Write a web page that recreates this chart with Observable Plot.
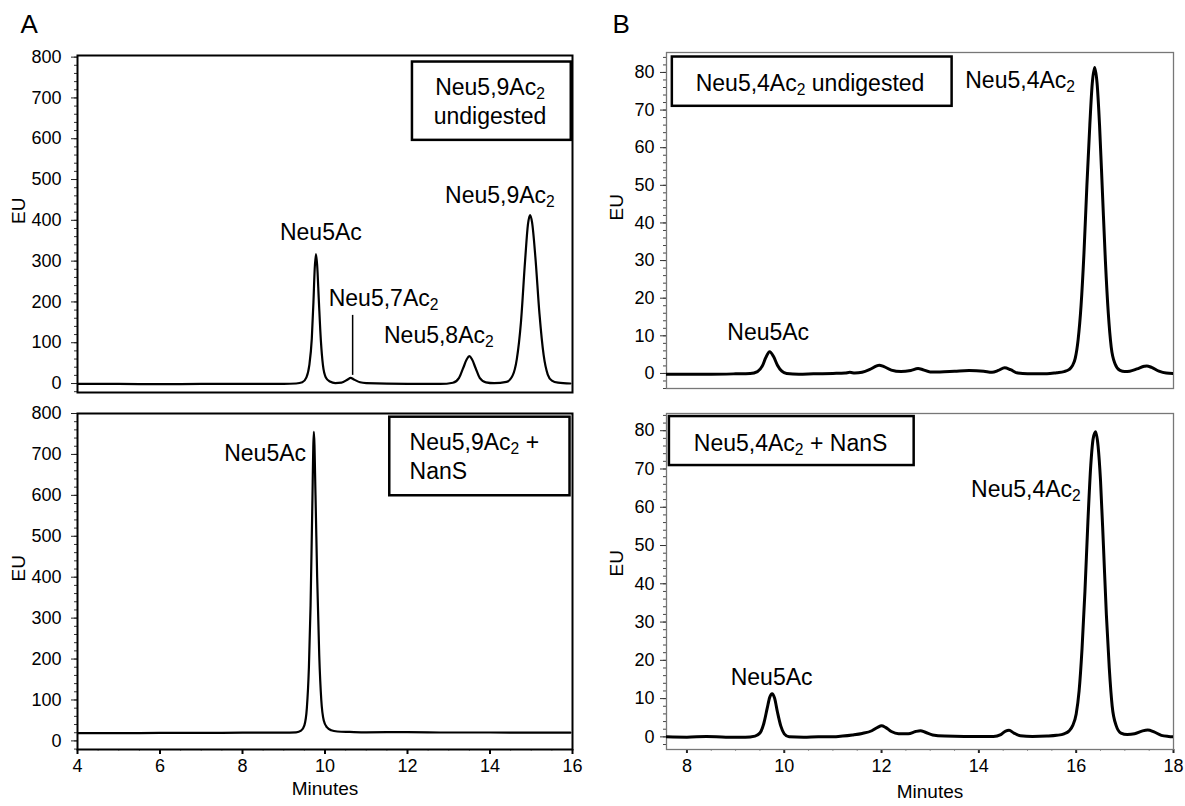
<!DOCTYPE html>
<html>
<head>
<meta charset="utf-8">
<script src="https://cdn.jsdelivr.net/npm/d3@7"></script>
<script src="https://cdn.jsdelivr.net/npm/@observablehq/plot@0.6"></script>
<style>
  body { margin: 0; background: #fff; }
  #chart { position: relative; width: 1185px; height: 806px; overflow: hidden; background: #fff; }
  #chart svg { position: absolute; max-width: none; }
</style>
</head>
<body>
<div id="chart"></div>
<script>
// ---------------- DATA ----------------
// Panel A (top): Neu5,9Ac2 undigested — [minutes, EU]
const traceA_undigested = [
  [4.0,-1],[5.0,-1],[6.0,-1.5],[7.0,-1],[8.0,-1],[9.0,-1],[9.3,0],[9.45,3],[9.55,15],[9.62,45],
  [9.68,110],[9.72,200],[9.75,280],[9.78,317],[9.81,290],[9.85,205],[9.9,105],[9.95,45],[10.02,15],
  [10.12,5],[10.25,1],[10.4,2],[10.55,10],[10.62,14],[10.7,10],[10.85,3],[11.0,1],[12.0,-1],[12.8,-1],
  [13.1,2],[13.25,14],[13.35,38],[13.44,60],[13.5,67],[13.56,60],[13.65,38],[13.75,14],[13.9,3],
  [14.1,1],[14.4,4],[14.55,20],[14.65,60],[14.75,150],[14.85,300],[14.92,390],[14.97,413],[15.02,395],
  [15.1,310],[15.2,170],[15.3,70],[15.4,22],[15.5,7],[15.65,2],[15.95,0]
];
// Panel A (bottom): Neu5,9Ac2 + NanS
const traceA_nans = [
  [4.0,19],[5.0,19],[6.0,19.5],[7.0,19.5],[8.0,20],[9.0,20],[9.3,21],[9.42,25],[9.5,38],[9.56,80],
  [9.61,180],[9.65,330],[9.69,560],[9.73,755],[9.77,600],[9.81,400],[9.86,210],[9.91,100],[9.97,50],
  [10.05,33],[10.15,26],[10.3,23],[10.6,22],[11.0,21],[12.0,21.5],[13.0,20.5],[14.0,20.5],[15.0,20],[15.95,20]
];
// Panel B (top): Neu5,4Ac2 undigested
const traceB_undigested = [
  [7.58,-0.2],[8.0,-0.2],[8.5,-0.2],[9.0,-0.1],[9.3,0],[9.45,0.5],[9.55,2],[9.62,4.2],[9.7,5.8],[9.78,4.5],
  [9.86,2.2],[9.95,0.6],[10.05,0],[10.3,-0.2],[10.6,-0.1],[11.0,0],[11.25,0.1],[11.35,0.3],[11.45,0.1],
  [11.6,0.3],[11.75,1.0],[11.9,2.0],[11.95,2.2],[12.05,1.8],[12.2,0.9],[12.4,0.5],[12.6,0.8],[12.75,1.3],
  [12.85,1.0],[13.0,0.4],[13.2,0.4],[13.5,0.6],[13.8,0.8],[14.1,0.6],[14.27,0.3],[14.4,0.8],[14.53,1.5],
  [14.65,1.0],[14.8,0.1],[15.0,-0.1],[15.4,-0.1],[15.6,0.2],[15.75,0.5],[15.85,1.0],[15.92,2],[15.98,4],
  [16.04,9],[16.1,18],[16.16,32],[16.22,50],[16.28,66],[16.33,77],[16.38,81.3],[16.43,77],[16.48,66],
  [16.54,48],[16.6,30],[16.66,16],[16.72,7],[16.8,2.5],[16.9,0.8],[17.0,0.5],[17.1,0.6],[17.25,1.2],
  [17.4,1.9],[17.45,2.0],[17.55,1.6],[17.7,0.6],[17.85,0.1],[18.0,0]
];
// Panel B (bottom): Neu5,4Ac2 + NanS
const traceB_nans = [
  [7.58,0],[8.0,-0.1],[8.4,0.1],[8.8,-0.1],[9.2,-0.1],[9.4,0.2],[9.5,1],[9.58,3.5],[9.65,7.5],[9.7,10.3],
  [9.75,11.3],[9.8,10.2],[9.86,6.5],[9.93,2.8],[10.0,0.8],[10.1,0],[10.4,-0.1],[10.7,0],[11.0,0],[11.2,0.2],
  [11.4,0.5],[11.6,0.9],[11.8,1.6],[11.92,2.5],[12.0,2.9],[12.08,2.5],[12.2,1.4],[12.35,0.8],[12.55,0.8],
  [12.7,1.4],[12.8,1.6],[12.9,1.2],[13.05,0.5],[13.3,0.2],[13.7,0.1],[14.0,0.1],[14.3,0.1],[14.45,0.6],
  [14.55,1.5],[14.62,1.7],[14.72,1.0],[14.85,0.3],[15.1,0.1],[15.4,0.2],[15.6,0.4],[15.75,0.8],[15.85,1.5],
  [15.93,3],[16.0,6],[16.06,12],[16.12,23],[16.18,38],[16.24,56],[16.3,71],[16.35,78],[16.4,79.7],[16.45,76],
  [16.5,67],[16.56,50],[16.62,32],[16.68,18],[16.74,8],[16.82,3],[16.92,1],[17.05,0.6],[17.2,0.8],[17.35,1.5],
  [17.47,1.8],[17.6,1.3],[17.75,0.4],[17.9,0.1],[18.0,0]
];

// Tick values / labels
const yTicksA = [0, 100, 200, 300, 400, 500, 600, 700, 800];
const xTicksA = [4, 6, 8, 10, 12, 14, 16];
const yTicksB = [0, 10, 20, 30, 40, 50, 60, 70, 80];
const xTicksB = [8, 10, 12, 14, 16, 18];

// Annotation texts (anchored in data units: minutes, EU)
const peakLabelsA1 = [
  {text: "Neu5Ac", t: 9.9, v: 352, anchor: "middle"},
  {text: "Neu5,7Ac_2", t: 10.09, v: 189, anchor: "start"},
  {text: "Neu5,8Ac_2", t: 11.43, v: 99, anchor: "start"},
  {text: "Neu5,9Ac_2", t: 12.91, v: 442, anchor: "start"}
];
const markerA1 = [{t: 10.67, v1: 20, v2: 167}];
const boxA1 = [{x1: 12.12, x2: 15.97, y1: 596, y2: 788}];
const boxTextA1 = [{text: "Neu5,9Ac_2\nundigested", t: 14.0, v: 636}];

const peakLabelsA2 = [{text: "Neu5Ac", t: 9.54, v: 684, anchor: "end"}];
const boxA2 = [{x1: 11.57, x2: 15.94, y1: 599, y2: 791}];
const boxTextA2 = [{text: "Neu5,9Ac_2 +\nNanS", t: 12.05, v: 640}];

const peakLabelsB1 = [
  {text: "Neu5Ac", t: 9.67, v: 8.95, anchor: "middle"},
  {text: "Neu5,4Ac_2", t: 13.72, v: 75.9, anchor: "start"}
];
const boxB1 = [{x1: 7.70, x2: 13.45, y1: 71.0, y2: 84.1}];
const boxTextB1 = [{text: "Neu5,4Ac_2 undigested", t: 10.53, v: 75.2}];

const peakLabelsB2 = [
  {text: "Neu5Ac", t: 9.74, v: 13.5, anchor: "middle"},
  {text: "Neu5,4Ac_2", t: 13.84, v: 62.6, anchor: "start"}
];
const boxB2 = [{x1: 7.64, x2: 12.67, y1: 70.9, y2: 83.7}];
const boxTextB2 = [{text: "Neu5,4Ac_2 + NanS", t: 10.13, v: 74.8}];

// ---------------- RENDER ----------------
const FONT = "'Liberation Sans', Arial, Helvetica, sans-serif";
const LABEL = 23;   // annotation font size
const TICK = 18;    // tick label font size
const TITLE = 19;   // axis titles
const chart = document.getElementById("chart");

function inDomain(vals, dom) { return vals.filter(v => v >= dom[0] - 1e-9 && v <= dom[1] + 1e-9); }

// Turn "_2" into a real subscript tspan (baseline-shift does not move following text)
function subscripts(svg) {
  const ns = "http://www.w3.org/2000/svg";
  svg.querySelectorAll("text").forEach(t => {
    const walker = document.createTreeWalker(t, NodeFilter.SHOW_TEXT);
    const nodes = [];
    while (walker.nextNode()) nodes.push(walker.currentNode);
    nodes.forEach(n => {
      if (!/_\d/.test(n.nodeValue)) return;
      const parts = n.nodeValue.split(/_(\d)/);
      const frag = document.createDocumentFragment();
      parts.forEach((p, i) => {
        if (i % 2 === 1) {
          const s = document.createElementNS(ns, "tspan");
          s.setAttribute("font-size", "68%");
          s.setAttribute("baseline-shift", "-4px");
          s.style.baselineShift = "-4px";
          s.textContent = p;
          frag.appendChild(s);
        } else if (p) {
          frag.appendChild(document.createTextNode(p));
        }
      });
      n.parentNode.replaceChild(frag, n);
    });
  });
}

function labelMarks(labels) {
  return labels.map(l => Plot.text([l], {x: "t", y: "v", text: "text", textAnchor: l.anchor,
    lineAnchor: "bottom", fontSize: LABEL, fill: "black"}));
}

function place(svg, left, top) {
  svg.style.left = left + "px";
  svg.style.top = top + "px";
  subscripts(svg);
  chart.appendChild(svg);
}

const style = {fontFamily: FONT, fontSize: TICK + "px", color: "black", background: "transparent", overflow: "visible"};

// ---- Panel A top ----
{
  const xd = [4, 16], yd = [-22, 804];
  const svg = Plot.plot({
    width: 600, height: 400, marginLeft: 77, marginRight: 28, marginTop: 55, marginBottom: 8,
    style,
    x: {domain: xd, axis: null, label: null},
    y: {domain: yd, label: null},
    marks: [
      Plot.axisY(inDomain(d3.range(-20, 801, 20), yd), {tickSize: 3, tickFormat: () => "", label: null, stroke: "#333"}),
      Plot.axisY(yTicksA, {tickSize: 6, tickPadding: 10, fontSize: TICK, label: null, stroke: "#222"}),
      Plot.rect(boxA1, {x1: "x1", x2: "x2", y1: "y1", y2: "y2", fill: "white", stroke: "black", strokeWidth: 2.5}),
      Plot.text(boxTextA1, {x: "t", y: "v", text: "text", textAnchor: "middle", lineAnchor: "bottom", lineHeight: 1.25, fontSize: LABEL}),
      Plot.line(traceA_undigested, {x: d => d[0], y: d => d[1], curve: "monotone-x", stroke: "black", strokeWidth: 2.2, clip: true}),
      Plot.ruleX(markerA1, {x: "t", y1: "v1", y2: "v2", stroke: "black", strokeWidth: 1.5}),
      ...labelMarks(peakLabelsA1),
      Plot.frame({stroke: "black", strokeWidth: 2}),
      Plot.text(["EU"], {frameAnchor: "left", dx: -59, rotate: -90, fontSize: TITLE}),
      Plot.text(["A"], {frameAnchor: "top-left", dx: -57, dy: -23, lineAnchor: "bottom", textAnchor: "start", fontSize: 26})
    ]
  });
  place(svg, 0, 0);
}

// ---- Panel A bottom ----
{
  const xd = [4, 16], yd = [-21, 800];
  const svg = Plot.plot({
    width: 600, height: 406, marginLeft: 77, marginRight: 28, marginTop: 13, marginBottom: 57,
    style,
    x: {domain: xd, label: null},
    y: {domain: yd, label: null},
    marks: [
      Plot.axisY(inDomain(d3.range(-20, 801, 20), yd), {tickSize: 3, tickFormat: () => "", label: null, stroke: "#333"}),
      Plot.axisY(yTicksA, {tickSize: 6, tickPadding: 10, fontSize: TICK, label: null, stroke: "#222"}),
      Plot.axisX(inDomain(d3.range(4, 16.01, 0.5), xd), {tickSize: 2, tickFormat: () => "", label: null, stroke: "#999"}),
      Plot.axisX(xTicksA, {tickSize: 5, tickPadding: 5, fontSize: TICK, strokeWidth: 2, label: null, stroke: "black"}),
      Plot.rect(boxA2, {x1: "x1", x2: "x2", y1: "y1", y2: "y2", fill: "white", stroke: "black", strokeWidth: 2.5}),
      Plot.text(boxTextA2, {x: "t", y: "v", text: "text", textAnchor: "start", lineAnchor: "bottom", lineHeight: 1.25, fontSize: LABEL}),
      Plot.line(traceA_nans, {x: d => d[0], y: d => d[1], curve: "monotone-x", stroke: "black", strokeWidth: 2.2, clip: true}),
      ...labelMarks(peakLabelsA2),
      Plot.frame({stroke: "black", strokeWidth: 2}),
      Plot.text(["EU"], {frameAnchor: "left", dx: -59, rotate: -90, fontSize: TITLE}),
      Plot.text(["Minutes"], {frameAnchor: "bottom", dy: 45, lineAnchor: "bottom", fontSize: TITLE})
    ]
  });
  place(svg, 0, 400);
}

// ---- Panel B top ----
{
  const xd = [7.58, 18.0], yd = [-4, 85.3];
  const svg = Plot.plot({
    width: 585, height: 400, marginLeft: 66, marginRight: 12, marginTop: 52, marginBottom: 12,
    style,
    x: {domain: xd, axis: null, label: null},
    y: {domain: yd, label: null},
    marks: [
      Plot.axisY(inDomain(d3.range(-4, 85, 2), yd), {tickSize: 3, tickFormat: () => "", label: null, stroke: "#444"}),
      Plot.axisY(yTicksB, {tickSize: 6, tickPadding: 6, fontSize: TICK, label: null, stroke: "#333"}),
      Plot.frame({stroke: "#777", strokeWidth: 1.3}),
      Plot.rect(boxB1, {x1: "x1", x2: "x2", y1: "y1", y2: "y2", fill: "white", stroke: "black", strokeWidth: 2.5}),
      Plot.text(boxTextB1, {x: "t", y: "v", text: "text", textAnchor: "middle", lineAnchor: "bottom", fontSize: LABEL}),
      Plot.line(traceB_undigested, {x: d => d[0], y: d => d[1], curve: "monotone-x", stroke: "black", strokeWidth: 3, clip: true}),
      ...labelMarks(peakLabelsB1),
      Plot.text(["EU"], {frameAnchor: "left", dx: -50, rotate: -90, fontSize: TITLE}),
      Plot.text(["B"], {frameAnchor: "top-left", dx: -54, dy: -20, lineAnchor: "bottom", textAnchor: "start", fontSize: 26})
    ]
  });
  place(svg, 600, 0);
}

// ---- Panel B bottom ----
{
  const xd = [7.58, 18.0], yd = [-3.3, 84.5];
  const svg = Plot.plot({
    width: 585, height: 406, marginLeft: 66, marginRight: 12, marginTop: 13, marginBottom: 57,
    style,
    x: {domain: xd, label: null},
    y: {domain: yd, label: null},
    marks: [
      Plot.axisY(inDomain(d3.range(-2, 85, 2), yd), {tickSize: 3, tickFormat: () => "", label: null, stroke: "#444"}),
      Plot.axisY(yTicksB, {tickSize: 6, tickPadding: 6, fontSize: TICK, label: null, stroke: "#333"}),
      Plot.axisX(inDomain(d3.range(8, 18.01, 0.5), xd), {tickSize: 2, tickFormat: () => "", label: null, stroke: "#999"}),
      Plot.axisX(xTicksB, {tickSize: 4, tickPadding: 6, fontSize: TICK, strokeWidth: 2, label: null, stroke: "#222"}),
      Plot.frame({stroke: "#777", strokeWidth: 1.3}),
      Plot.rect(boxB2, {x1: "x1", x2: "x2", y1: "y1", y2: "y2", fill: "white", stroke: "black", strokeWidth: 2.5}),
      Plot.text(boxTextB2, {x: "t", y: "v", text: "text", textAnchor: "middle", lineAnchor: "bottom", fontSize: LABEL}),
      Plot.line(traceB_nans, {x: d => d[0], y: d => d[1], curve: "monotone-x", stroke: "black", strokeWidth: 3, clip: true}),
      ...labelMarks(peakLabelsB2),
      Plot.text(["EU"], {frameAnchor: "left", dx: -50, dy: -5, rotate: -90, fontSize: TITLE}),
      Plot.text(["Minutes"], {frameAnchor: "bottom", dx: 10, dy: 48, lineAnchor: "bottom", fontSize: TITLE})
    ]
  });
  place(svg, 600, 400);
}
</script>
</body>
</html>
